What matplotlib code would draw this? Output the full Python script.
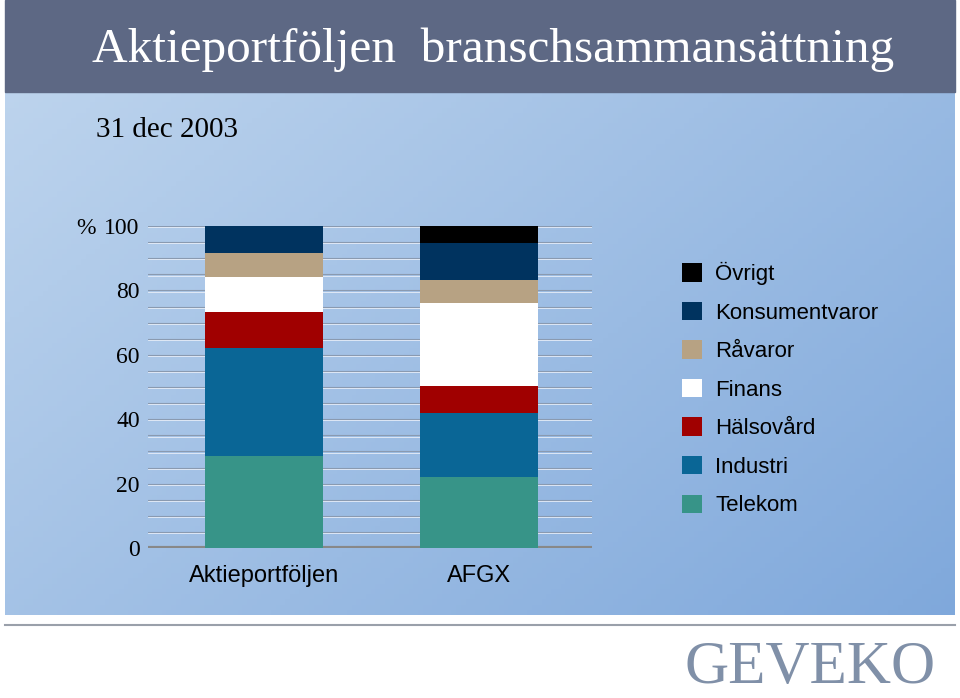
import numpy as np
import matplotlib.pyplot as plt

categories = ["Aktieportföljen", "AFGX"]
sectors = ["Telekom", "Industri", "Hälsovård", "Finans", "Råvaror", "Konsumentvaror", "Övrigt"]
values = {
    "Telekom": [28.6, 22.0],
    "Industri": [33.5, 19.9],
    "Hälsovård": [11.2, 8.4],
    "Finans": [10.9, 25.8],
    "Råvaror": [7.4, 7.1],
    "Konsumentvaror": [8.4, 11.5],
    "Övrigt": [0.0, 5.3],
}
colors = {
    "Telekom": "#379488",
    "Industri": "#0a6696",
    "Hälsovård": "#a00000",
    "Finans": "#ffffff",
    "Råvaror": "#b7a283",
    "Konsumentvaror": "#00335f",
    "Övrigt": "#000000",
}
yticks = [0, 20, 40, 60, 80, 100]

W, H = 960, 698
fig = plt.figure(figsize=(W / 100, H / 100), dpi=100)

# background
bg = fig.add_axes([0, 0, 1, 1])
bg.set_xlim(0, W)
bg.set_ylim(H, 0)
bg.axis("off")
xx, yy = np.meshgrid(np.linspace(0, 1, 200), np.linspace(0, 1, 100))
t = 0.6 * xx + 0.4 * yy
c0 = np.array([0.74, 0.83, 0.93])
c1 = np.array([0.50, 0.66, 0.86])
img = c0 + (c1 - c0) * t[..., None]
bg.imshow(img, extent=[5, 955, 615, 92], aspect="auto")
bg.add_patch(plt.Rectangle((5, 0), 950, 92, color="#5d6884"))
bg.plot([5, 955], [625, 625], color="#9aa0aa", lw=1.5)
bg.text(92, 50, "Aktieportföljen  branschsammansättning", color="white",
        fontsize=35.5, family="Liberation Serif", va="center")
bg.text(96, 130, "31 dec 2003", color="black", fontsize=21,
        family="Liberation Serif", va="center")
bg.text(76, 228, "%", fontsize=17, family="Liberation Serif", va="center")
bg.text(810, 668, "GEVEKO", color="#8090a8", fontsize=44,
        family="Liberation Serif", ha="center", va="center")

ax = fig.add_axes([148 / W, 1 - 548 / H, (592 - 148) / W, (548 - 226) / H])
ax.patch.set_alpha(0)
for y in np.arange(5, 101, 5):
    ax.axhline(y, color="#8a9ab0", lw=0.8, zorder=0)
    ax.axhline(y - 0.4, color="#e8eef8", lw=0.6, zorder=0)
ax.axhline(0, color="#888888", lw=3, zorder=0)

x = np.array([0.685, 2.135])
bottom = np.zeros(2)
for s in sectors:
    ax.bar(x, values[s], bottom=bottom, width=0.8, color=colors[s], label=s, zorder=2)
    bottom += np.array(values[s])

ax.set_xlim(-0.1, 2.9)
ax.set_ylim(0, 100)
ax.set_yticks(yticks)
ax.set_yticklabels([str(v) for v in yticks], family="Liberation Serif", fontsize=17)
ax.set_xticks(x)
ax.set_xticklabels(categories, family="Liberation Sans", fontsize=17)
ax.tick_params(axis="y", length=0, pad=6)
ax.tick_params(axis="x", length=0, pad=12)
for sp in ax.spines.values():
    sp.set_visible(False)

h, l = ax.get_legend_handles_labels()
leg = fig.legend(h[::-1], l[::-1], loc="upper left", bbox_to_anchor=(662 / W, 1 - 242 / H),
                 frameon=False, prop={"family": "Liberation Sans", "size": 16},
                 handlelength=0.9, handleheight=0.9, labelspacing=0.75, handletextpad=0.6)

fig.savefig("out.png", dpi=100)
